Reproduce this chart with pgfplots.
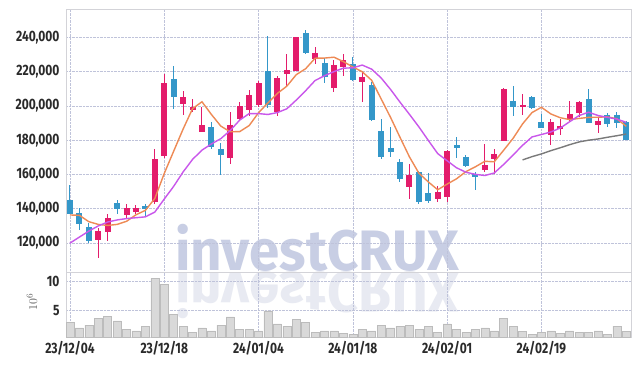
\documentclass[border=0pt]{standalone}
\usepackage{pgfplots}
\pgfplotsset{compat=1.18}
\usepackage{pgfplotstable}
\usepackage{fontspec}
\setmainfont{Fira Sans}[FakeStretch=0.8]
\newfontfamily\wmfont{Fira Sans}
\definecolor{upc}{HTML}{E31C6B}
\definecolor{downc}{HTML}{3497C9}
\definecolor{maf}{HTML}{EE8A55}
\definecolor{mat}{HTML}{C957EB}
\definecolor{mas}{HTML}{7A7A7A}
\definecolor{gridc}{HTML}{BFC3DA}
\definecolor{framec}{HTML}{D3D3D8}
\definecolor{wm}{HTML}{C8CEE4}
\definecolor{wmr}{HTML}{E8EAF2}
\definecolor{volf}{HTML}{D9D9D9}
\definecolor{vold}{HTML}{BCBCBC}
\definecolor{labc}{HTML}{2A2A2A}
\newcommand\tickfont{\fontsize{15}{15}\selectfont\bfseries}

\pgfplotstableread{
i O H L C
3 121800 128600 111100 127000
4 126600 137100 121200 134500
6 136200 142600 133900 140300
7 138100 142000 136800 140500
9 144100 174700 142800 169000
10 171000 218600 169400 213200
12 200900 208500 194700 205200
13 197800 203800 196300 199400
14 184600 199500 184600 188900
17 169800 196600 165900 188900
18 192200 202100 191800 199900
19 197400 209100 194300 206400
20 200500 214500 199400 213400
22 196300 217600 193900 216400
23 218800 230100 211200 220900
24 220500 240300 220500 240000
26 227500 234500 224400 230900
28 210600 226800 207900 223800
29 222500 230100 217400 226800
31 214100 220500 202400 216700
36 152500 165900 145500 159700
39 145500 153500 144100 149600
40 146700 174300 144100 173700
44 162600 177600 161600 165500
45 169200 174900 160300 172000
46 179700 210300 179500 209900
48 199500 206800 194500 200700
51 183000 192500 177200 190600
52 186700 192400 183000 188300
53 192400 202900 190400 195300
54 196000 202900 193400 202100
56 189000 193100 184400 191000
}\upT

\pgfplotstableread{
i O H L C
0 145100 153700 137000 137100
1 137400 140300 127600 131300
2 129600 131900 120000 121400
5 143600 145100 136800 140100
8 141800 142800 135800 139900
11 215700 223100 198000 205400
15 187700 190800 174700 175900
16 174900 178200 159700 171500
21 220300 240900 198900 200500
25 242500 244100 230100 230800
27 225200 227800 213200 216700
30 224400 228800 214500 215300
32 212200 214100 191000 191800
33 185400 192500 168900 170000
34 175500 187900 170000 172900
35 167100 169000 155800 157200
37 161600 162200 142800 144100
38 149000 160700 143500 144700
41 177200 181700 169400 175600
42 170200 171500 164200 165000
43 160100 161500 151000 158700
47 203000 211600 194100 199500
49 205000 205800 198000 198600
50 190600 195000 187000 187300
55 204000 209700 190000 190200
57 194500 195900 187700 189300
58 194400 196200 187400 190000
59 190600 191400 180000 180100
}\downT

\pgfplotstableread{
i V
0 3.0
1 2.0
2 2.5
3 3.7
4 4.0
5 3.2
6 1.8
7 1.5
8 2.2
9 10.5
10 9.5
11 4.3
12 2.2
13 1.3
14 2.0
15 1.5
16 2.5
17 3.9
18 1.7
19 1.7
20 1.5
21 4.9
22 2.7
23 2.3
24 3.4
25 2.9
26 1.3
27 1.5
28 1.5
29 1.0
30 0.9
31 1.8
32 1.5
33 2.5
34 2.0
35 2.3
36 2.5
37 1.8
38 2.3
39 1.2
40 2.7
41 1.8
42 1.2
43 1.7
44 2.0
45 1.5
46 3.7
47 2.2
48 1.4
49 0.9
50 1.2
51 1.5
52 1.0
53 1.5
54 1.2
55 1.2
56 1.5
57 0.9
58 2.3
59 1.4
}\volT

\begin{document}
\begin{tikzpicture}
\useasboundingbox (0pt,0pt) rectangle (639pt,366pt);
\fill[white] (0pt,0pt) rectangle (639pt,366pt);
% watermark and its reflection
\node[anchor=base west, inner sep=0pt, text=wmr, xscale=0.96, yscale=-1,
      font=\wmfont\bfseries\fontsize{57}{57}\selectfont] at (175pt,93pt) {investCRUX};
\node[anchor=base west, inner sep=0pt, text=wm, xscale=0.96,
      font=\wmfont\bfseries\fontsize{57}{57}\selectfont] at (175pt,95pt) {investCRUX};

\begin{axis}[
  at={(66pt,94pt)}, anchor=south west, scale only axis,
  width=565pt, height=263pt,
  xmin=-0.42, xmax=59.5, ymin=103150, ymax=256500,
  xtick={0,10,...,50}, xticklabels={},
  ytick={120000,140000,...,240000},
  scaled y ticks=false,
  grid=major, major grid style={gridc, densely dotted, line width=0.6pt},
  axis line style={framec, line width=0.8pt},
  major tick length=0pt,
  yticklabel style={font=\tickfont, text=labc, xshift=-3pt,
     /pgf/number format/fixed, /pgf/number format/1000 sep={,},
     /pgf/number format/assume math mode=true},
  unbounded coords=jump,
]
% wicks
\addplot[draw=none, mark=none, forget plot,
  error bars/.cd, y dir=both, y explicit, error mark=none,
  error bar style={draw=upc, line width=1pt}]
  table[x=i, y expr={(\thisrow{H}+\thisrow{L})/2}, y error expr={(\thisrow{H}-\thisrow{L})/2}] {\upT};
\addplot[draw=none, mark=none, forget plot,
  error bars/.cd, y dir=both, y explicit, error mark=none,
  error bar style={draw=downc, line width=1pt}]
  table[x=i, y expr={(\thisrow{H}+\thisrow{L})/2}, y error expr={(\thisrow{H}-\thisrow{L})/2}] {\downT};
% bodies
\addplot[draw=none, mark=none, forget plot,
  error bars/.cd, y dir=both, y explicit, error mark=none,
  error bar style={draw=upc, line width=6pt}]
  table[x=i, y expr={(\thisrow{O}+\thisrow{C})/2}, y error expr={abs(\thisrow{C}-\thisrow{O})/2}] {\upT};
\addplot[draw=none, mark=none, forget plot,
  error bars/.cd, y dir=both, y explicit, error mark=none,
  error bar style={draw=downc, line width=6pt}]
  table[x=i, y expr={(\thisrow{O}+\thisrow{C})/2}, y error expr={abs(\thisrow{O}-\thisrow{C})/2}] {\downT};
% moving averages
\addplot[maf, line width=1.4pt, mark=none] coordinates {
(0,136400)(1,136200)(2,132500)(3,130900)(4,130300)(5,130900)(6,132700)(7,136500)(8,139100)(9,146000)
(10,160600)(11,173600)(12,186500)(13,198400)(14,202400)(15,195000)(16,188200)(17,184900)(18,185000)(19,188500)
(20,196000)(21,201800)(22,207300)(23,211500)(24,218200)(25,221700)(26,227800)(27,227900)(28,228400)(29,225800)
(30,222700)(31,219900)(32,214900)(33,204100)(34,193300)(35,181700)(36,170300)(37,160800)(38,155700)(39,151100)
(40,154400)(41,157500)(42,161700)(43,164500)(44,167700)(45,167400)(46,174200)(47,181100)(48,189500)(49,196100)
(50,199200)(51,195300)(52,193100)(53,192000)(54,192700)(55,193300)(56,193400)(57,193600)(58,192500)(59,188100)};
\addplot[mat, line width=1.4pt, mark=none] coordinates {
(0,120000)(1,123500)(2,127000)(3,130000)(4,132300)(5,133500)(6,134300)(7,134800)(8,135300)(9,138100)
(10,145700)(11,153100)(12,161500)(13,168800)(14,174200)(15,177800)(16,180900)(17,185700)(18,191700)(19,195500)
(20,195500)(21,195000)(22,196100)(23,198300)(24,203400)(25,208900)(26,214800)(27,217600)(28,220000)(29,222000)
(30,222200)(31,223800)(32,221400)(33,216300)(34,209600)(35,202200)(36,195100)(37,187800)(38,179900)(39,172200)
(40,168000)(41,163900)(42,161300)(43,160100)(44,159400)(45,160900)(46,165900)(47,171400)(48,177000)(49,181900)
(50,183300)(51,184800)(52,187100)(53,190800)(54,194400)(55,196300)(56,194400)(57,193300)(58,192300)(59,190400)};
\addplot[mas, line width=1.4pt, mark=none] coordinates {
(48,168500)(49,170400)(50,172000)(51,173900)(52,175600)(53,177400)(54,179000)(55,180000)(56,180700)(57,181700)(58,182600)(59,183600)};
\end{axis}

\begin{axis}[
  at={(66pt,28.5pt)}, anchor=south west, scale only axis,
  width=565pt, height=65.5pt,
  xmin=-0.42, xmax=59.5, ymin=0.36, ymax=11.58,
  xtick={0,10,...,50},
  xticklabels={23/12/04,23/12/18,24/01/04,24/01/18,24/02/01,24/02/19},
  ytick={5,10},
  grid=major, major grid style={gridc, densely dotted, line width=0.6pt},
  axis line style={framec, line width=0.8pt},
  major tick length=0pt,
  xticklabel style={font=\tickfont, text=labc, yshift=0pt},
  yticklabel style={font=\tickfont, text=labc, xshift=-3pt,
     /pgf/number format/assume math mode=true},
  ybar, bar width=8pt,
]
\addplot[fill=volf, draw=vold, line width=0.6pt] table[x=i, y=V] {\volT};
\end{axis}
\node[rotate=90, text=black!65, font=\fontsize{13}{13}\selectfont] at (32pt,64pt) {$10^{6}$};
\end{tikzpicture}
\end{document}
